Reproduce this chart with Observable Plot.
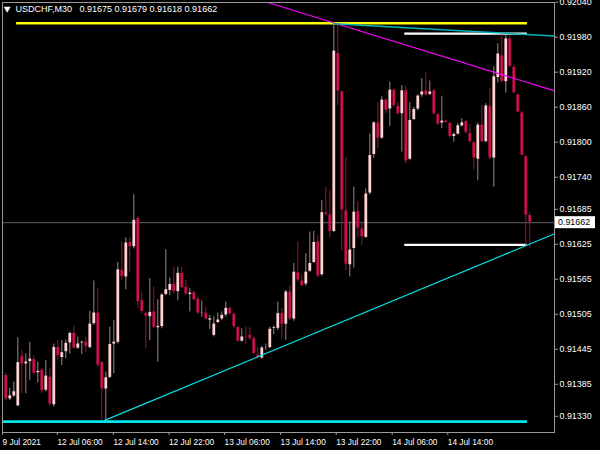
<!DOCTYPE html>
<html><head><meta charset="utf-8">
<script src="https://cdn.jsdelivr.net/npm/d3@7"></script>
<script src="https://cdn.jsdelivr.net/npm/@observablehq/plot@0.6"></script>
<style>html,body{margin:0;padding:0;background:#000;overflow:hidden}</style>
</head><body><div id="chart"></div>
<script>
// ---- data ----
const titleText = "USDCHF,M30\u00a0\u00a0 0.91675 0.91679 0.91618 0.91662";

const opens = [
0.91407,0.91401,0.91359,0.91364,0.91347,0.91434,0.91419,0.91423,0.91428,0.91404,
0.91410,0.91374,0.91398,0.91349,0.91449,0.91430,0.91440,0.91455,0.91473,0.91446,
0.91455,0.91458,0.91447,0.91488,0.91508,0.91423,0.91376,0.91396,0.91453,0.91456,
0.91581,0.91568,0.91629,0.91620,0.91670,0.91529,0.91507,0.91500,0.91510,0.91481,
0.91483,0.91538,0.91545,0.91557,0.91543,0.91576,0.91552,0.91538,0.91543,0.91532,
0.91506,0.91508,0.91494,0.91468,0.91490,0.91496,0.91503,0.91516,0.91506,0.91483,
0.91458,0.91467,0.91470,0.91464,0.91436,0.91429,0.91446,0.91447,0.91480,0.91480,
0.91507,0.91487,0.91544,0.91496,0.91577,0.91563,0.91556,0.91578,0.91593,0.91630,
0.91572,0.91680,0.91676,0.91646,0.91953,0.91887,0.91683,0.91589,0.91617,0.91682,
0.91652,0.91636,0.91712,0.91778,0.91834,0.91806,0.91873,0.91856,0.91890,0.91862,
0.91848,0.91889,0.91770,0.91838,0.91856,0.91880,0.91889,0.91881,0.91889,0.91848,
0.91832,0.91837,0.91833,0.91809,0.91813,0.91827,0.91836,0.91816,0.91800,0.91770,
0.91830,0.91800,0.91862,0.91772,0.91910,0.91949,0.91903,0.91978,0.91929,0.91882,
0.91851,0.91776,0.91675];
const highs = [
0.91422,0.91404,0.91378,0.91389,0.91465,0.91443,0.91437,0.91457,0.91434,0.91423,
0.91412,0.91426,0.91412,0.91454,0.91460,0.91460,0.91461,0.91474,0.91484,0.91466,
0.91459,0.91466,0.91510,0.91562,0.91549,0.91424,0.91406,0.91483,0.91494,0.91594,
0.91629,0.91636,0.91637,0.91710,0.91672,0.91543,0.91509,0.91566,0.91552,0.91530,
0.91540,0.91616,0.91567,0.91586,0.91586,0.91585,0.91563,0.91549,0.91544,0.91534,
0.91528,0.91517,0.91503,0.91501,0.91507,0.91509,0.91526,0.91517,0.91507,0.91484,
0.91480,0.91483,0.91482,0.91466,0.91448,0.91450,0.91454,0.91483,0.91485,0.91526,
0.91515,0.91546,0.91554,0.91592,0.91629,0.91572,0.91609,0.91646,0.91647,0.91640,
0.91700,0.91723,0.91717,0.92003,0.92003,0.91888,0.91774,0.91663,0.91723,0.91698,
0.91663,0.91720,0.91814,0.91835,0.91868,0.91878,0.91874,0.91903,0.91891,0.91868,
0.91897,0.91896,0.91868,0.91860,0.91881,0.91909,0.91919,0.91905,0.91890,0.91849,
0.91878,0.91838,0.91834,0.91816,0.91832,0.91840,0.91837,0.91830,0.91801,0.91833,
0.91863,0.91866,0.91892,0.91929,0.91969,0.91984,0.91983,0.91982,0.91932,0.91883,
0.91853,0.91777,0.91679];
const lows = [
0.91395,0.91357,0.91357,0.91363,0.91347,0.91369,0.91369,0.91392,0.91401,0.91387,
0.91369,0.91372,0.91348,0.91346,0.91426,0.91417,0.91429,0.91437,0.91445,0.91445,
0.91436,0.91440,0.91446,0.91486,0.91414,0.91323,0.91323,0.91395,0.91403,0.91454,
0.91563,0.91547,0.91577,0.91617,0.91515,0.91506,0.91446,0.91460,0.91480,0.91423,
0.91480,0.91537,0.91537,0.91540,0.91528,0.91549,0.91537,0.91509,0.91528,0.91505,
0.91500,0.91495,0.91479,0.91466,0.91489,0.91494,0.91500,0.91503,0.91480,0.91457,
0.91457,0.91454,0.91460,0.91436,0.91429,0.91428,0.91443,0.91446,0.91470,0.91477,
0.91462,0.91460,0.91494,0.91493,0.91560,0.91552,0.91553,0.91577,0.91592,0.91568,
0.91570,0.91674,0.91636,0.91645,0.91863,0.91614,0.91580,0.91569,0.91584,0.91636,
0.91623,0.91635,0.91710,0.91772,0.91789,0.91805,0.91849,0.91827,0.91860,0.91847,
0.91783,0.91763,0.91769,0.91837,0.91854,0.91877,0.91879,0.91880,0.91846,0.91829,
0.91823,0.91832,0.91807,0.91800,0.91812,0.91826,0.91814,0.91799,0.91752,0.91734,
0.91799,0.91799,0.91770,0.91723,0.91902,0.91902,0.91884,0.91928,0.91883,0.91850,
0.91776,0.91623,0.91618];
const closes = [
0.91400,0.91359,0.91366,0.91373,0.91423,0.91419,0.91424,0.91429,0.91403,0.91408,
0.91373,0.91400,0.91350,0.91449,0.91433,0.91440,0.91456,0.91473,0.91446,0.91455,
0.91458,0.91449,0.91489,0.91508,0.91417,0.91376,0.91397,0.91454,0.91458,0.91582,
0.91569,0.91628,0.91620,0.91667,0.91526,0.91509,0.91501,0.91509,0.91482,0.91485,
0.91539,0.91548,0.91557,0.91543,0.91576,0.91550,0.91539,0.91542,0.91529,0.91506,
0.91508,0.91496,0.91498,0.91489,0.91496,0.91504,0.91516,0.91505,0.91483,0.91458,
0.91467,0.91465,0.91463,0.91437,0.91430,0.91448,0.91448,0.91480,0.91483,0.91507,
0.91487,0.91544,0.91496,0.91578,0.91563,0.91553,0.91578,0.91593,0.91629,0.91570,
0.91680,0.91676,0.91646,0.91957,0.91887,0.91683,0.91590,0.91616,0.91681,0.91652,
0.91637,0.91712,0.91778,0.91834,0.91806,0.91873,0.91854,0.91890,0.91862,0.91848,
0.91889,0.91767,0.91838,0.91857,0.91880,0.91887,0.91880,0.91887,0.91848,0.91830,
0.91837,0.91833,0.91809,0.91814,0.91829,0.91834,0.91816,0.91800,0.91772,0.91830,
0.91800,0.91863,0.91772,0.91913,0.91952,0.91903,0.91978,0.91929,0.91884,0.91851,
0.91777,0.91674,0.91662];

// horizontal levels (price, bar-index span)
const levelPrices = [0.92004, 0.91321, 0.91986, 0.91624];
const levelFrom   = [3.7, 0.2, 100.75, 100.75];
const levelTo     = [131.4, 131.4, 131.4, 131.4];

// trend lines (bar index, price)
const supportIdx = [25.7, 138.2],  supportPrice = [0.91323, 0.91643];
const channelIdx = [66.7, 138.2],  channelPrice = [0.92039, 0.91888];
const upperIdx   = [83, 138.2],    upperPrice   = [0.92003, 0.91982];

// axes
const yTicks = [0.92040,0.91980,0.91920,0.91860,0.91800,0.91740,0.91685,0.91625,0.91565,0.91505,0.91445,0.91385,0.91330];
const xTickIndex  = [0.2, 13.9, 27.9, 41.8, 55.7, 69.7, 83.6, 97.6, 111.5];
const xTickLabels = ["9 Jul 2021","12 Jul 06:00","12 Jul 14:00","12 Jul 22:00","13 Jul 06:00","13 Jul 14:00","13 Jul 22:00","14 Jul 06:00","14 Jul 14:00"];

// ---- build ----
const candles = opens.map((o, i) => ({i, open: o, high: highs[i], low: lows[i], close: closes[i], up: closes[i] >= o}));
const lastClose = closes[closes.length - 1];
const levels = levelPrices.map((p, k) => ({price: p, from: levelFrom[k], to: levelTo[k]}));
const line = (xs, ys) => xs.map((x, k) => ({x, y: ys[k]}));
const xLabel = new Map(xTickIndex.map((d, k) => [d, xTickLabels[k]]));
const fmt = d3.format(".5f");
const font = "'Liberation Sans', Arial, sans-serif";

const chart = Plot.plot({
  width: 600, height: 450,
  marginLeft: 2, marginRight: 46, marginTop: 2, marginBottom: 18,
  style: {background: "#000", color: "#fff", fontFamily: font},
  x: {domain: [0.175, 138.175], axis: null},
  y: {domain: [0.913023, 0.920395], axis: null},
  marks: [
    Plot.ruleY([lastClose], {stroke: "#59606c", strokeWidth: 1}),
    Plot.ruleY([levels[0]], {y: "price", x1: "from", x2: "to", stroke: "#ffff00", strokeWidth: 2.6}),
    Plot.ruleY([levels[1]], {y: "price", x1: "from", x2: "to", stroke: "#00e5ee", strokeWidth: 2.6}),
    Plot.ruleY([levels[2], levels[3]], {y: "price", x1: "from", x2: "to", stroke: "#ffffff", strokeWidth: 2.2}),
    Plot.ruleX(candles, {x: "i", y1: "low", y2: "high", stroke: d => d.up ? "#9a8686" : "#a0103f", strokeWidth: 1, clip: true}),
    Plot.ruleX(candles, {x: "i", y1: d => Math.min(d.open, d.close), y2: d => Math.max(d.open, d.close),
      stroke: d => d.up ? "#fdd3d3" : "#c8124e", strokeWidth: 2.8, insetTop: -0.5, insetBottom: -0.5, clip: true}),
    Plot.line(line(supportIdx, supportPrice), {x: "x", y: "y", stroke: "#00e0e8", strokeWidth: 1.2}),
    Plot.line(line(channelIdx, channelPrice), {x: "x", y: "y", stroke: "#ff00ff", strokeWidth: 1.1}),
    Plot.line(line(upperIdx, upperPrice), {x: "x", y: "y", stroke: "#00b4b8", strokeWidth: 1.4}),
    Plot.frame({stroke: "#9a9a9a"}),
    Plot.axisY(yTicks, {anchor: "right", tickSize: 3, tickPadding: 2, tickFormat: fmt, stroke: "#9a9a9a", fill: "#fff", fontSize: 8.9}),
    Plot.axisX(xTickIndex, {anchor: "bottom", tickSize: 3, tickPadding: 3.3, tickFormat: d => xLabel.get(d), textAnchor: "start", stroke: "#9a9a9a", fill: "#fff", fontSize: 8.3}),
    Plot.text([titleText], {text: d => d, frameAnchor: "top-left", dx: 13, dy: 2.7, lineAnchor: "top", textAnchor: "start", fill: "#fff", fontSize: 9}),
    Plot.dot([0], {frameAnchor: "top-left", dx: 4.7, dy: 6.3, symbol: "triangle", rotate: 180, r: 2.6, fill: "#fff", stroke: "none"})
  ]
});

// current price tag on the price axis
const yPos = chart.scale("y").apply(lastClose);
const xEdge = chart.scale("x").range[1];
const tag = d3.select(chart).append("g").attr("text-anchor", "start");
tag.append("rect").attr("x", xEdge + 1).attr("y", yPos - 6).attr("width", 40).attr("height", 12).attr("fill", "#fff");
tag.append("text").attr("x", xEdge + 4).attr("y", yPos).attr("dy", "0.34em").attr("font-size", 8.9)
   .attr("text-anchor", "start").attr("font-family", font).attr("fill", "#000").text(fmt(lastClose));

document.getElementById("chart").appendChild(chart);
</script>
</body></html>
